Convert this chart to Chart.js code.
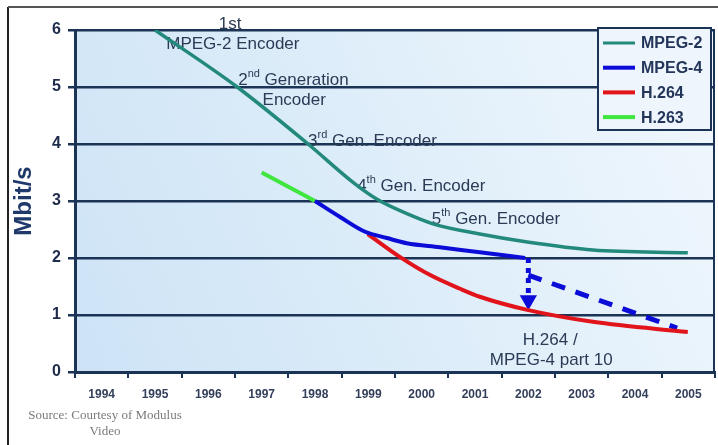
<!DOCTYPE html>
<html>
<head>
<meta charset="utf-8">
<script src="https://cdn.jsdelivr.net/npm/chart.js@4/dist/chart.umd.min.js"></script>
<style>
html,body{margin:0;padding:0;background:#fff;}
#wrap{width:718px;height:445px;position:relative;}
</style>
</head>
<body>
<div id="wrap"><canvas id="c" width="718" height="445"></canvas></div>
<script>
// ---- data ----
const years = ['1994','1995','1996','1997','1998','1999','2000','2001','2002','2003','2004','2005'];
const yTicks = [0,1,2,3,4,5,6];

const mpeg2X = [1995.0, 1996.54, 1997.87, 1998.75, 1999.18, 1999.69, 2000.21, 2001.09, 2001.98, 2003.21, 2004.99];
const mpeg2Y = [6.0, 5.0, 4.0, 3.30, 3.02, 2.79, 2.60, 2.42, 2.28, 2.14, 2.09];

const mpeg4X = [1998.0, 1998.47, 1998.94, 1999.35, 1999.72, 2000.34, 2001.09, 2001.94];
const mpeg4Y = [3.0, 2.72, 2.46, 2.35, 2.26, 2.19, 2.10, 2.0];

const h264X = [1998.99, 1999.59, 2000.16, 2000.72, 2001.09, 2001.98, 2003.21, 2004.99];
const h264Y = [2.42, 2.02, 1.70, 1.46, 1.32, 1.09, 0.88, 0.70];

const h263X = [1997.0, 1998.0];
const h263Y = [3.5, 3.0];

const projX = [2002.0, 2004.79];
const projY = [1.70, 0.77];

const arrowX = [2002.0, 2002.0];
const arrowY = [2.0, 1.26];

// annotation texts: [base, superscript, rest, x(year), y(value), align]
const notes = [
  ['1st', '', '', 1996.41, 6.1, 'center'],
  ['MPEG-2 Encoder', '', '', 1996.46, 5.75, 'center'],
  ['2', 'nd', ' Generation', 1996.56, 5.12, 'left'],
  ['Encoder', '', '', 1997.61, 4.77, 'center'],
  ['3', 'rd', ' Gen. Encoder', 1997.87, 4.05, 'left'],
  ['4', 'th', ' Gen. Encoder', 1998.79, 3.26, 'left'],
  ['5', 'th', ' Gen. Encoder', 2000.19, 2.68, 'left'],
  ['H.264 /', '', '', 2002.41, 0.56, 'center'],
  ['MPEG-4 part 10', '', '', 2002.43, 0.21, 'center']
];
const sourceLines = ['Source: Courtesy of Modulus', 'Video'];

const pts = (xs, ys) => xs.map((x, i) => ({x: x, y: ys[i]}));

const C_M2 = '#23897c', C_M4 = '#0c0cd8', C_264 = '#e2141b', C_263 = '#3ee63e';
const NAVY = '#1b3354';
const NOTE_FONT = '17px "Liberation Sans", Arial, sans-serif';
const SUP_FONT = '11px "Liberation Sans", Arial, sans-serif';

const bgPlugin = {
  id: 'bg',
  beforeDraw(chart) {
    const ctx = chart.ctx, a = chart.chartArea;
    ctx.save();
    ctx.fillStyle = '#ffffff';
    ctx.fillRect(0, 0, chart.width, chart.height);
    const g = ctx.createLinearGradient(a.left, a.bottom, a.right, a.top + 60);
    g.addColorStop(0, '#cde3f6');
    g.addColorStop(0.5, '#ddedf9');
    g.addColorStop(1, '#f0f7fd');
    ctx.fillStyle = g;
    ctx.fillRect(a.left, a.top, a.right - a.left, a.bottom - a.top);
    // outer frame
    ctx.strokeStyle = '#222';
    ctx.lineWidth = 2;
    ctx.beginPath();
    ctx.moveTo(8, chart.height);
    ctx.lineTo(8, 7);
    ctx.stroke();
    ctx.strokeStyle = '#555';
    ctx.beginPath();
    ctx.moveTo(8, 7);
    ctx.lineTo(chart.width, 7);
    ctx.stroke();
    ctx.restore();
  },
  beforeDatasetsDraw(chart) {
    const ctx = chart.ctx, xs = chart.scales.x, ys = chart.scales.y;
    ctx.save();
    ctx.fillStyle = '#2b3a55';
    ctx.textBaseline = 'middle';
    notes.forEach(n => {
      const [base, sup, rest, xv, yv, align] = n;
      let px = xs.getPixelForValue(xv);
      const py = ys.getPixelForValue(yv);
      ctx.font = NOTE_FONT;
      const wb = ctx.measureText(base).width;
      ctx.font = SUP_FONT;
      const ws = ctx.measureText(sup).width;
      ctx.font = NOTE_FONT;
      const wr = ctx.measureText(rest).width;
      const total = wb + ws + wr;
      if (align === 'center') px -= total / 2;
      ctx.textAlign = 'left';
      ctx.fillText(base, px, py);
      if (sup) {
        ctx.font = SUP_FONT;
        ctx.fillText(sup, px + wb, py - 6);
        ctx.font = NOTE_FONT;
      }
      if (rest) ctx.fillText(rest, px + wb + ws, py);
    });
    ctx.restore();
  },
  afterDatasetsDraw(chart) {
    const ctx = chart.ctx, a = chart.chartArea;
    ctx.save();
    // right border
    ctx.strokeStyle = NAVY;
    ctx.lineWidth = 2;
    ctx.beginPath();
    ctx.moveTo(a.right - 1, a.top);
    ctx.lineTo(a.right - 1, a.bottom);
    ctx.stroke();
    // legend box
    const bx = 598, by = 28, bw = 113, bh = 102;
    ctx.fillStyle = '#eef5fc';
    ctx.fillRect(bx, by, bw, bh);
    ctx.strokeStyle = NAVY;
    ctx.lineWidth = 2;
    ctx.strokeRect(bx, by, bw, bh);
    const items = chart.data.datasets.slice(0, 4);
    ctx.font = 'bold 16px "Liberation Sans", Arial, sans-serif';
    ctx.textBaseline = 'middle';
    ctx.textAlign = 'left';
    items.forEach((d, i) => {
      const y = by + 15 + i * 24.7;
      ctx.strokeStyle = d.borderColor;
      ctx.lineWidth = i === 0 ? 3 : 4;
      ctx.beginPath();
      ctx.moveTo(bx + 5, y);
      ctx.lineTo(bx + 37, y);
      ctx.stroke();
      ctx.fillStyle = '#23365a';
      ctx.fillText(d.label, bx + 43, y + 1);
    });
    ctx.restore();
  },
  afterDraw(chart) {
    const ctx = chart.ctx;
    ctx.save();
    ctx.fillStyle = '#7a7a7a';
    ctx.font = '13px "Liberation Serif", "Times New Roman", serif';
    ctx.textAlign = 'center';
    ctx.textBaseline = 'middle';
    ctx.fillText(sourceLines[0], 105, 416);
    ctx.fillText(sourceLines[1], 105, 432);
    ctx.restore();
  }
};

const lineDs = (label, xs, ys, color, width) => ({
  label: label,
  data: pts(xs, ys),
  borderColor: color,
  backgroundColor: color,
  borderWidth: width,
  pointRadius: 0,
  fill: false,
  cubicInterpolationMode: 'monotone',
  xAxisID: 'x',
  yAxisID: 'y'
});

new Chart(document.getElementById('c'), {
  type: 'line',
  data: {
    labels: years,
    datasets: [
      lineDs('MPEG-2', mpeg2X, mpeg2Y, C_M2, 3.5),
      lineDs('MPEG-4', mpeg4X, mpeg4Y, C_M4, 4),
      lineDs('H.264', h264X, h264Y, C_264, 4),
      lineDs('H.263', h263X, h263Y, C_263, 4),
      {
        label: 'MPEG-4 trend',
        data: pts(projX, projY),
        borderColor: C_M4,
        borderWidth: 5,
        borderDash: [14, 11],
        pointRadius: 0,
        fill: false,
        xAxisID: 'x', yAxisID: 'y'
      },
      {
        label: 'arrow',
        data: pts(arrowX, arrowY),
        borderColor: C_M4,
        backgroundColor: C_M4,
        borderWidth: 5,
        borderDash: [5, 5],
        pointRadius: [0, 10],
        pointStyle: 'triangle',
        rotation: 180,
        pointBorderWidth: 0,
        fill: false,
        xAxisID: 'x', yAxisID: 'y'
      }
    ]
  },
  options: {
    responsive: false,
    animation: false,
    events: [],
    layout: { autoPadding: false, padding: { top: 30, right: 3, left: 0, bottom: 0 } },
    plugins: {
      legend: { display: false },
      tooltip: { enabled: false }
    },
    scales: {
      x: {
        type: 'linear',
        min: 1993.5,
        max: 2005.5,
        display: false
      },
      xc: {
        type: 'category',
        labels: years,
        position: 'bottom',
        offset: true,
        afterFit(s) { s.height = 73; s.paddingLeft = 0; s.paddingRight = 0; },
        grid: {
          offset: true,
          drawOnChartArea: false,
          drawTicks: true,
          tickLength: 6,
          color: NAVY,
          tickColor: NAVY,
          lineWidth: 2
        },
        border: { display: true, color: NAVY, width: 3 },
        ticks: {
          color: '#333f5a',
          padding: 9,
          maxRotation: 0,
          autoSkip: false,
          font: { family: '"Liberation Sans", Arial, sans-serif', size: 12, weight: 'bold' }
        }
      },
      y: {
        type: 'linear',
        min: 0,
        max: 6,
        afterFit(s) { s.width = 75; },
        afterBuildTicks(s) { s.ticks = yTicks.map(v => ({value: v})); },
        grid: {
          color: NAVY,
          lineWidth: 2.5,
          tickLength: 7,
          tickColor: NAVY
        },
        border: { display: true, color: NAVY, width: 3 },
        ticks: {
          color: '#1e2b4a',
          padding: 7,
          font: { family: '"Liberation Sans", Arial, sans-serif', size: 16, weight: 'bold' }
        },
        title: {
          display: true,
          text: 'Mbit/s',
          color: '#1f3a6a',
          padding: { top: 10, bottom: 0 },
          font: { family: '"Liberation Sans", Arial, sans-serif', size: 24, weight: 'bold' }
        }
      }
    }
  },
  plugins: [bgPlugin]
});
</script>
</body>
</html>
